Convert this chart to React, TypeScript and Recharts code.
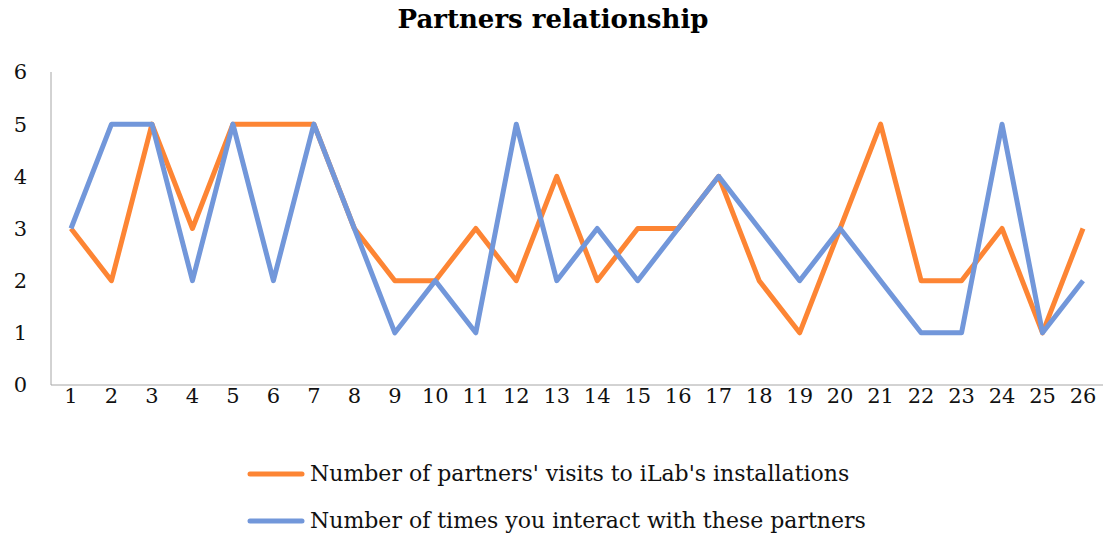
import React from 'react';
import { LineChart, Line, XAxis, YAxis, Legend } from 'recharts';

const categories = Array.from({ length: 26 }, (_, i) => String(i + 1));
const visits = [3, 2, 5, 3, 5, 5, 5, 3, 2, 2, 3, 2, 4, 2, 3, 3, 4, 2, 1, 3, 5, 2, 2, 3, 1, 3];
const interactions = [3, 5, 5, 2, 5, 2, 5, 3, 1, 2, 1, 5, 2, 3, 2, 3, 4, 3, 2, 3, 2, 1, 1, 5, 1, 2];
const yTicks = [0, 1, 2, 3, 4, 5, 6];
const seriesNames = {
  visits: "Number of partners' visits to iLab's installations",
  interactions: 'Number of times you interact with these partners',
};
const title = 'Partners relationship';

const data = categories.map((c, i) => ({ cat: c, visits: visits[i], interactions: interactions[i] }));

const FONT = '"DejaVu Serif", "Liberation Serif", serif';
const ORANGE = '#FD8534';
const BLUE = '#7297DA';

const LegendContent = () => {
  const items = [
    { name: seriesNames.visits, color: ORANGE },
    { name: seriesNames.interactions, color: BLUE },
  ];
  return (
    <div style={{ fontFamily: FONT, fontSize: 22, color: '#111' }}>
      {items.map((it) => (
        <div key={it.name} style={{ display: 'flex', alignItems: 'center', height: 47, whiteSpace: 'nowrap' }}>
          <svg width={60} height={10} style={{ marginRight: 3 }}>
            <line x1={3} y1={5} x2={55} y2={5} stroke={it.color} strokeWidth={5} strokeLinecap="round" />
          </svg>
          <span>{it.name}</span>
        </div>
      ))}
    </div>
  );
};

export default function App() {
  return (
    <div style={{ position: 'absolute', left: 0, top: 0, width: 1106, height: 539, background: '#fff' }}>
      <div
        style={{
          position: 'absolute',
          top: 4,
          left: 0,
          width: 1106,
          textAlign: 'center',
          fontFamily: FONT,
          fontWeight: 'bold',
          fontSize: 26,
          color: '#000',
        }}
      >
        {title}
      </div>
      <LineChart width={1106} height={539} data={data} margin={{ top: 72, right: 3, bottom: 114, left: 11 }}>
        <XAxis
          dataKey="cat"
          stroke="#A6A6A6"
          tickLine={false}
          tickSize={0}
          tickMargin={3}
          height={40}
          interval={0}
          padding={{ left: 20, right: 20 }}
          tick={{ fill: '#111', fontSize: 21, fontFamily: FONT }}
        />
        <YAxis
          domain={[0, 6]}
          ticks={yTicks}
          stroke="#A6A6A6"
          tickLine={false}
          tickSize={0}
          tickMargin={24}
          width={40}
          interval={0}
          tick={{ fill: '#111', fontSize: 21, fontFamily: FONT }}
        />
        <Line
          dataKey="visits"
          stroke={ORANGE}
          strokeWidth={5}
          dot={false}
          isAnimationActive={false}
          strokeLinejoin="round"
        />
        <Line
          dataKey="interactions"
          stroke={BLUE}
          strokeWidth={5}
          dot={false}
          isAnimationActive={false}
          strokeLinejoin="round"
        />
        <Legend
          layout="vertical"
          verticalAlign="middle"
          align="center"
          content={<LegendContent />}
          wrapperStyle={{ top: 450, left: 247, width: 850, height: 94 }}
        />
      </LineChart>
    </div>
  );
}
